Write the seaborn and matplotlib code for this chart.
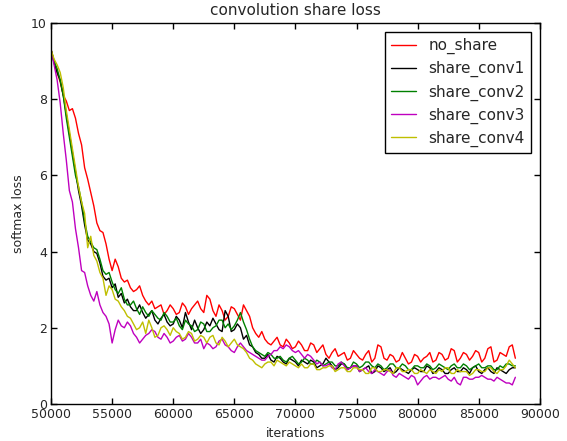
import numpy as np
import pandas as pd
import seaborn as sns
import matplotlib.pyplot as plt

# iterations, one reading every 250 steps
iterations = list(range(50000, 88001, 250))

no_share = [9.3, 9.0, 8.7, 8.45, 8.1, 7.95, 7.7, 7.75, 7.5, 7.1,
            6.8, 6.2, 5.9, 5.55, 5.2, 4.75, 4.55, 4.5, 4.2, 3.8,
            3.5, 3.8, 3.6, 3.3, 3.2, 3.25, 3.05, 2.95, 3.0, 3.1,
            2.85, 2.7, 2.6, 2.7, 2.5, 2.55, 2.6, 2.35, 2.45, 2.6,
            2.5, 2.35, 2.4, 2.65, 2.55, 2.35, 2.5, 2.6, 2.7, 2.5,
            2.4, 2.85, 2.75, 2.45, 2.3, 2.6, 2.45, 2.2, 2.3, 2.55,
            2.5, 2.35, 2.2, 2.6, 2.45, 2.3, 2.0, 1.85, 1.75, 1.9,
            1.7, 1.6, 1.55, 1.65, 1.75, 1.55, 1.5, 1.7, 1.6, 1.45,
            1.5, 1.65, 1.55, 1.4, 1.4, 1.6, 1.55, 1.35, 1.45, 1.55,
            1.3, 1.2, 1.35, 1.45, 1.25, 1.3, 1.35, 1.15, 1.2, 1.4,
            1.3, 1.2, 1.15, 1.3, 1.4, 1.1, 1.2, 1.55, 1.5, 1.2,
            1.15, 1.3, 1.25, 1.1, 1.15, 1.35, 1.2, 1.05, 1.1, 1.3,
            1.25, 1.1, 1.2, 1.25, 1.35, 1.1, 1.15, 1.35, 1.3, 1.15,
            1.2, 1.45, 1.4, 1.1, 1.2, 1.35, 1.3, 1.15, 1.25, 1.4,
            1.35, 1.1, 1.2, 1.45, 1.5, 1.1, 1.15, 1.35, 1.3, 1.25,
            1.5, 1.55, 1.2]

share_conv1 = [9.3, 8.95, 8.7, 8.5, 8.1, 7.6, 7.1, 6.6, 6.1, 5.6,
               5.2, 4.7, 4.3, 4.2, 4.0, 3.95, 3.7, 3.35, 3.25, 3.3,
               3.05, 3.15, 2.8, 2.9, 2.65, 2.75, 2.55, 2.45, 2.45, 2.6,
               2.4, 2.25, 2.35, 2.45, 2.2, 2.1, 2.25, 2.35, 2.15, 2.05,
               2.1, 2.3, 2.2, 2.0, 2.4, 2.15, 1.95, 2.2, 2.0, 1.85,
               1.95, 2.15, 2.05, 2.25, 2.1, 1.95, 1.9, 2.45, 2.3, 1.9,
               1.95, 2.1, 2.0, 1.7, 1.8, 1.55, 1.5, 1.35, 1.3, 1.2,
               1.2, 1.3, 1.15, 1.1, 1.25, 1.2, 1.1, 1.05, 1.2, 1.15,
               1.1, 1.0, 1.15, 1.1, 1.05, 1.15, 1.1, 0.95, 1.0, 1.05,
               1.2, 1.1, 1.0, 0.9, 0.95, 1.05, 1.05, 0.9, 0.95, 1.0,
               1.0, 0.85, 0.9, 0.95, 1.0, 0.8, 0.85, 1.0, 0.95, 0.85,
               0.9, 0.95, 0.8, 0.85, 0.95, 0.9, 0.85, 0.8, 0.9, 0.95,
               0.9, 0.85, 0.85, 1.0, 0.95, 0.8, 0.85, 0.95, 0.9, 0.8,
               0.8, 0.9, 0.95, 0.85, 0.85, 0.95, 0.9, 0.8, 0.95, 1.0,
               0.85, 0.8, 0.9, 0.95, 0.85, 0.8, 0.95, 0.9, 0.85, 0.8,
               0.9, 0.95, 0.95]

share_conv2 = [9.3, 9.0, 8.8, 8.5, 8.1, 7.5, 7.0, 6.5, 6.0, 5.7,
               5.3, 4.8, 4.4, 4.25, 4.1, 4.05, 3.8, 3.5, 3.4, 3.45,
               3.2, 3.0, 2.9, 3.05, 2.75, 2.6, 2.6, 2.7, 2.5, 2.35,
               2.55, 2.4, 2.3, 2.45, 2.35, 2.25, 2.2, 2.4, 2.3, 2.15,
               2.15, 2.25, 2.05, 1.95, 2.2, 2.1, 2.05, 1.9, 1.95, 2.15,
               2.1, 1.9, 1.9, 2.0, 2.05, 2.2, 2.2, 2.0, 2.1, 1.95,
               2.05, 2.2, 2.4, 2.15, 1.95, 1.7, 1.5, 1.4, 1.35, 1.3,
               1.25, 1.35, 1.3, 1.2, 1.2, 1.25, 1.15, 1.1, 1.2, 1.25,
               1.15, 1.05, 1.1, 1.2, 1.15, 1.05, 1.05, 1.15, 1.1, 1.0,
               1.05, 1.1, 1.1, 1.0, 1.0, 1.1, 1.05, 0.95, 0.95, 1.1,
               1.05, 0.95, 1.0, 1.1, 1.1, 1.0, 0.95, 1.05, 1.0, 0.9,
               0.95, 1.05, 1.05, 0.95, 0.95, 1.05, 1.0, 0.9, 0.9, 1.0,
               1.0, 0.95, 0.95, 1.05, 1.0, 0.9, 0.95, 1.05, 1.0, 0.95,
               0.9, 1.0, 1.05, 0.95, 0.95, 1.05, 1.0, 0.9, 0.95, 1.0,
               1.05, 0.95, 0.95, 1.0, 1.0, 0.9, 0.9, 1.0, 0.95, 1.05,
               1.05, 1.0, 1.0]

share_conv3 = [9.3, 8.9, 8.5, 7.9, 7.1, 6.4, 5.6, 5.3, 4.6, 4.1,
               3.5, 3.45, 3.1, 2.85, 2.7, 2.95, 2.6, 2.4, 2.3, 2.1,
               1.6, 1.95, 2.2, 2.05, 2.0, 2.15, 2.05, 1.85, 1.75, 1.6,
               1.7, 1.8, 1.85, 1.95, 1.9, 1.75, 1.7, 1.85, 1.75, 1.6,
               1.65, 1.75, 1.8, 1.65, 1.7, 1.85, 1.75, 1.6, 1.6, 1.7,
               1.45, 1.6, 1.55, 1.45, 1.5, 1.65, 1.7, 1.55, 1.5, 1.4,
               1.35, 1.5, 1.6, 1.5, 1.4, 1.35, 1.3, 1.25, 1.2, 1.15,
               1.15, 1.25, 1.3, 1.4, 1.4, 1.5, 1.45, 1.55, 1.5, 1.4,
               1.35, 1.4, 1.3, 1.2, 1.3, 1.25, 1.15, 1.05, 1.1, 1.0,
               1.0, 1.05, 0.95, 0.9, 1.05, 1.1, 1.0, 0.9, 0.95, 1.0,
               1.0, 0.85, 0.9, 0.95, 0.85, 0.8, 0.9, 0.85, 0.8, 0.75,
               0.85, 0.9, 0.75, 0.7, 0.8, 0.75, 0.7, 0.65, 0.75, 0.7,
               0.5, 0.6, 0.7, 0.75, 0.65, 0.7, 0.7, 0.65, 0.7, 0.75,
               0.65, 0.6, 0.7, 0.55, 0.5, 0.7, 0.7, 0.65, 0.65, 0.7,
               0.7, 0.75, 0.7, 0.65, 0.65, 0.6, 0.7, 0.65, 0.6, 0.55,
               0.55, 0.5, 0.7]

share_conv4 = [9.3, 9.05, 8.9, 8.7, 8.3, 7.7, 7.2, 6.7, 6.2, 5.7,
               5.3, 5.0, 4.1, 4.4, 3.9, 3.75, 3.45, 3.3, 2.85, 3.1,
               3.0, 2.75, 2.7, 2.55, 2.45, 2.3, 2.25, 2.1, 1.95, 2.0,
               2.15, 1.85, 2.2, 2.0, 1.75, 1.8, 2.0, 2.05, 1.95, 1.8,
               2.0, 1.9, 1.85, 1.7, 1.75, 1.9, 1.85, 1.65, 1.7, 1.8,
               1.75, 1.6, 1.75, 1.8, 1.6, 1.55, 1.75, 1.65, 1.5, 1.6,
               1.7, 1.55, 1.5, 1.45, 1.35, 1.2, 1.15, 1.05, 1.0, 0.95,
               1.05, 1.1, 1.1, 1.0, 1.15, 1.1, 1.05, 1.0, 1.1, 1.05,
               1.0, 0.95, 1.05, 0.95, 0.95, 1.05, 1.05, 0.9, 0.9, 0.95,
               0.95, 1.0, 1.0, 0.85, 0.9, 0.95, 0.95, 0.85, 0.85, 0.95,
               0.95, 0.9, 0.9, 0.8, 0.8, 0.95, 0.95, 0.85, 0.85, 0.9,
               0.9, 0.85, 0.8, 0.95, 0.95, 0.85, 0.85, 0.9, 0.9, 0.8,
               0.8, 0.9, 0.85, 0.8, 0.9, 0.85, 0.8, 0.9, 0.85, 0.95,
               0.95, 0.8, 0.8, 0.9, 0.85, 0.85, 0.85, 0.75, 0.8, 0.9,
               0.9, 0.85, 0.85, 0.95, 0.95, 0.85, 0.8, 0.9, 0.9, 1.0,
               1.15, 1.05, 0.95]

series_names = ["no_share", "share_conv1", "share_conv2", "share_conv3", "share_conv4"]
series_values = [no_share, share_conv1, share_conv2, share_conv3, share_conv4]
line_colors = ["#ff0000", "#000000", "#008000", "#bf00bf", "#bfbf00"]

x_ticks = [50000, 55000, 60000, 65000, 70000, 75000, 80000, 85000, 90000]
y_ticks = [0, 2, 4, 6, 8, 10]

# long form table for seaborn
frames = []
for name, vals in zip(series_names, series_values):
    frames.append(pd.DataFrame({"iterations": iterations[:len(vals)],
                                "loss": vals, "model": name}))
df = pd.concat(frames, ignore_index=True)

sns.set_style("ticks")
plt.rcParams["font.family"] = ["DejaVu Sans"]
plt.rcParams["xtick.direction"] = "in"
plt.rcParams["ytick.direction"] = "in"

fig = plt.figure(figsize=(5.67, 4.41), dpi=100)
ax = fig.add_axes([0.09, 0.084, 0.862, 0.864])

sns.lineplot(data=df, x="iterations", y="loss", hue="model",
             palette=dict(zip(series_names, line_colors)),
             linewidth=1.0, ax=ax)

ax.set_xlim(50000, 90000)
ax.set_ylim(0, 10)
ax.set_xticks(x_ticks)
ax.set_yticks(y_ticks)
ax.tick_params(which="both", top=True, right=True, length=4, width=1,
               labelsize=9, color="black", pad=3)
for sp in ax.spines.values():
    sp.set_visible(True)
    sp.set_color("black")
    sp.set_linewidth(1.0)

ax.set_title("convolution share loss", fontsize=11)
ax.set_xlabel("iterations", fontsize=9)
ax.set_ylabel("softmax loss", fontsize=9)

leg = ax.legend(loc="upper right", fontsize=11, fancybox=False, frameon=True,
                edgecolor="black", framealpha=1, handlelength=1.6,
                borderaxespad=0.6, labelspacing=0.45)
leg.get_frame().set_linewidth(1.0)

fig.savefig("out.png", dpi=100)
